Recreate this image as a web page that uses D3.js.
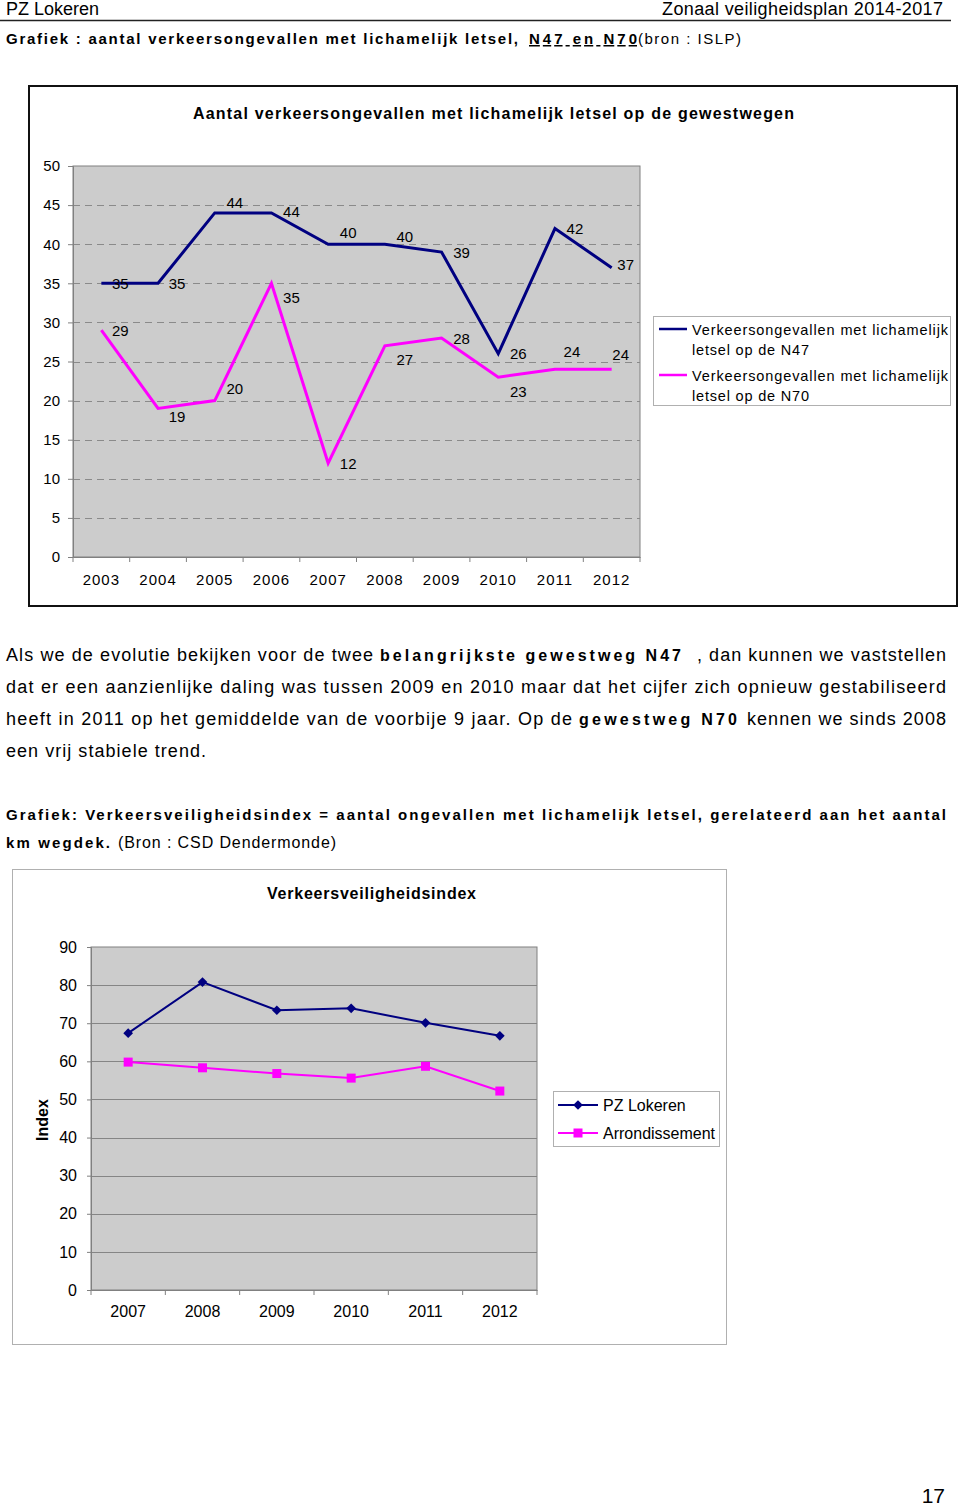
<!DOCTYPE html>
<html><head><meta charset="utf-8">
<script src="https://cdn.jsdelivr.net/npm/d3@7"></script>
<style>
html,body{margin:0;padding:0;background:#fff;}
svg{display:block;font-family:"Liberation Sans",Arial,sans-serif;}
</style></head>
<body>
<script>
// ---------- DATA ----------
const years1 = ['2003','2004','2005','2006','2007','2008','2009','2010','2011','2012'];
const n47 = [35,35,44,44,40,40,39,26,42,37];
const n70 = [29,19,20,35,12,27,28,23,24,24];
const yTicks1 = [0,5,10,15,20,25,30,35,40,45,50];
const seriesNames1 = ['Verkeersongevallen met lichamelijk|letsel op de N47','Verkeersongevallen met lichamelijk|letsel op de N70'];

const years2 = ['2007','2008','2009','2010','2011','2012'];
const pzLokeren = [67.4,80.8,73.4,73.9,70.1,66.7];
const arrondissement = [59.8,58.3,56.8,55.6,58.7,52.2];
const yTicks2 = [0,10,20,30,40,50,60,70,80,90];
const seriesNames2 = ['PZ Lokeren','Arrondissement'];

// ---------- DRAW ----------
const W=960,H=1508;
const svg=d3.select('body').append('svg').attr('width',W).attr('height',H);
const NAVY='#000080', MAG='#ff00ff', PLOT='#cccccc', AX='#808080';

function seg(txt,x0,x1,y,opts={}){
  const t=svg.append('text').attr('x',x0).attr('y',y)
    .attr('font-size',opts.size||17)
    .attr('font-weight',opts.bold?'bold':'normal')
    .attr('fill','#000')
    .text(txt);
  if(x1!=null){t.attr('textLength',x1-x0).attr('lengthAdjust','spacing');}
  if(opts.underline) t.attr('text-decoration','underline');
  if(opts.anchor) t.attr('text-anchor',opts.anchor);
  return t;
}

// header
seg('PZ Lokeren',6,99,15,{size:18});
seg('Zonaal veiligheidsplan 2014-2017',662,943,15,{size:18});
svg.append('line').attr('x1',0).attr('x2',951).attr('y1',20.5).attr('y2',20.5).attr('stroke','#222').attr('stroke-width',1.5);

seg('Grafiek : aantal verkeersongevallen met lichamelijk letsel,',6,518,44,{size:15,bold:true});
seg('N47 en N70 ',529,637,44,{size:15,bold:true,underline:true});
seg('(bron : ISLP)',638,741,44,{size:15});

// ---------- CHART 1 ----------
svg.append('rect').attr('x',29).attr('y',86).attr('width',928).attr('height',520)
  .attr('fill','#fff').attr('stroke','#111').attr('stroke-width',2);
seg('Aantal verkeersongevallen met lichamelijk letsel op de gewestwegen',193,794,119,{size:16,bold:true});

const x1=d3.scaleBand().domain(years1).range([73,640]);
const y1=d3.scaleLinear().domain([0,50]).range([557,166]);
const g1=svg.append('g');
g1.append('rect').attr('x',73).attr('y',y1(50)).attr('width',640-73).attr('height',y1(0)-y1(50))
  .attr('fill',PLOT).attr('stroke',AX).attr('stroke-width',1);
// dashed grid
g1.selectAll('.grid').data(yTicks1.filter(d=>d>0&&d<50)).join('line')
  .attr('x1',73).attr('x2',640).attr('y1',d=>Math.round(y1(d))+0.5).attr('y2',d=>Math.round(y1(d))+0.5)
  .attr('stroke','#8a8a8a').attr('stroke-dasharray','7,5').attr('stroke-width',1);
// y axis
const ya1=g1.append('g').attr('transform','translate(73,0)')
  .call(d3.axisLeft(y1).tickValues(yTicks1).tickSize(5).tickPadding(8));
ya1.select('.domain').attr('stroke',AX);
ya1.selectAll('.tick line').attr('stroke',AX);
ya1.selectAll('.tick text').attr('font-size',15).attr('fill','#000').attr('font-family','Liberation Sans, Arial, sans-serif');
// x axis
const xa1=g1.append('g').attr('transform','translate(0,557)')
  .call(d3.axisBottom(x1).tickSize(0).tickPadding(17));
xa1.select('.domain').attr('stroke',AX);
xa1.selectAll('.tick text').attr('font-size',15).attr('fill','#000').attr('letter-spacing',1).attr('font-family','Liberation Sans, Arial, sans-serif');
g1.selectAll('.xt').data(years1.concat(['end'])).join('line')
  .attr('x1',(d,i)=>i<years1.length?x1(d):640).attr('x2',(d,i)=>i<years1.length?x1(d):640)
  .attr('y1',557).attr('y2',562).attr('stroke',AX);

const line1=d3.line().x((d,i)=>x1(years1[i])+x1.bandwidth()/2).y(d=>y1(d));
g1.append('path').datum(n47).attr('d',line1).attr('fill','none').attr('stroke',NAVY).attr('stroke-width',3).attr('stroke-linejoin','miter');
g1.append('path').datum(n70).attr('d',line1).attr('fill','none').attr('stroke',MAG).attr('stroke-width',3).attr('stroke-linejoin','miter');

const off47=[[19,0],[19,0],[20,-10],[20,-1],[20,-12],[20,-8],[20,0],[20,0],[20,0],[14,-3]];
const off70=[[19,0],[19,8],[20,-12],[20,14],[20,0],[20,14],[20,0],[20,14],[17,-18],[9,-15]];
function labels(data,off){
  g1.append('g').selectAll('text').data(data).join('text')
    .attr('x',(d,i)=>x1(years1[i])+x1.bandwidth()/2+off[i][0])
    .attr('y',(d,i)=>y1(d)+off[i][1])
    .attr('text-anchor','middle').attr('dominant-baseline','central')
    .attr('font-size',15).text(d=>d);
}
labels(n47,off47); labels(n70,off70);

// legend 1
svg.append('rect').attr('x',653.5).attr('y',316.5).attr('width',297).attr('height',89)
  .attr('fill','#fff').attr('stroke','#b0b0b0');
[[NAVY,seriesNames1[0],330],[MAG,seriesNames1[1],376]].forEach(([c,name,yy])=>{
  svg.append('line').attr('x1',659).attr('x2',687).attr('y1',yy-1).attr('y2',yy-1).attr('stroke',c).attr('stroke-width',2.5);
  const parts=name.split('|');
  seg(parts[0],692,948,yy+5,{size:14.5});
  seg(parts[1],692,809,yy+25,{size:14.5});
});

// ---------- PARAGRAPH ----------
seg('Als we de evolutie bekijken voor de twee',6,373,661,{size:18});
seg('belangrijkste gewestweg  N47',380,681,661,{size:16,bold:true});
seg(', dan kunnen we vaststellen',697,946,661,{size:18});
seg('dat er een aanzienlijke daling was tussen 2009 en 2010 maar dat het cijfer zich opnieuw gestabiliseerd',6,946,693,{size:18});
seg('heeft in 2011 op het gemiddelde van de voorbije 9 jaar. Op de',6,572,725,{size:18});
seg('gewestweg N70',579,737,725,{size:16,bold:true});
seg('kennen we sinds 2008',747,946,725,{size:18});
seg('een vrij stabiele trend.',6,206,757,{size:18});

seg('Grafiek: Verkeersveiligheidsindex = aantal ongevallen met lichamelijk letsel, gerelateerd aan het aantal',6,946,820,{size:15,bold:true});
seg('km wegdek.',6,110,848,{size:15,bold:true});
seg('(Bron : CSD Dendermonde)',118,336,848,{size:16});

// ---------- CHART 2 ----------
svg.append('rect').attr('x',12.5).attr('y',869.5).attr('width',714).attr('height',475)
  .attr('fill','#fff').attr('stroke','#b0b0b0');
seg('Verkeersveiligheidsindex',267,476,899,{size:16,bold:true});

const x2=d3.scaleBand().domain(years2).range([91,537]);
const y2=d3.scaleLinear().domain([0,90]).range([1290,947]);
const g2=svg.append('g');
g2.append('rect').attr('x',91).attr('y',y2(90)).attr('width',537-91).attr('height',y2(0)-y2(90))
  .attr('fill',PLOT).attr('stroke',AX);
g2.selectAll('.grid').data(yTicks2.filter(d=>d>0&&d<90)).join('line')
  .attr('x1',91).attr('x2',537).attr('y1',d=>Math.round(y2(d))+0.5).attr('y2',d=>Math.round(y2(d))+0.5)
  .attr('stroke','#858585');
const ya2=g2.append('g').attr('transform','translate(91,0)')
  .call(d3.axisLeft(y2).tickValues(yTicks2).tickSize(4).tickPadding(10));
ya2.select('.domain').attr('stroke',AX);
ya2.selectAll('.tick line').attr('stroke',AX);
ya2.selectAll('.tick text').attr('font-size',16).attr('fill','#000').attr('font-family','Liberation Sans, Arial, sans-serif');
const xa2=g2.append('g').attr('transform','translate(0,1290)')
  .call(d3.axisBottom(x2).tickSize(0).tickPadding(16));
xa2.select('.domain').attr('stroke',AX);
xa2.selectAll('.tick text').attr('font-size',16).attr('fill','#000').attr('font-family','Liberation Sans, Arial, sans-serif');
g2.selectAll('.xt').data(years2.concat(['end'])).join('line')
  .attr('x1',(d,i)=>i<years2.length?x2(d):537).attr('x2',(d,i)=>i<years2.length?x2(d):537)
  .attr('y1',1290).attr('y2',1295).attr('stroke',AX);

svg.append('text').attr('transform','translate(48,1120) rotate(-90)')
  .attr('text-anchor','middle').attr('font-size',16).attr('font-weight','bold').text('Index');

const line2=d3.line().x((d,i)=>x2(years2[i])+x2.bandwidth()/2).y(d=>y2(d));
g2.append('path').datum(pzLokeren).attr('d',line2).attr('fill','none').attr('stroke',NAVY).attr('stroke-width',2);
g2.append('path').datum(arrondissement).attr('d',line2).attr('fill','none').attr('stroke',MAG).attr('stroke-width',2);
const diamond=d3.symbol().type(d3.symbolDiamond2).size(60);
g2.selectAll('.pd').data(pzLokeren).join('path')
  .attr('transform',(d,i)=>`translate(${x2(years2[i])+x2.bandwidth()/2},${y2(d)})`)
  .attr('d',diamond).attr('fill',NAVY);
g2.selectAll('.ps').data(arrondissement).join('rect')
  .attr('x',(d,i)=>x2(years2[i])+x2.bandwidth()/2-4.5).attr('y',d=>y2(d)-4.5)
  .attr('width',9).attr('height',9).attr('fill',MAG);

// legend 2
svg.append('rect').attr('x',553.5).attr('y',1091.5).attr('width',166).attr('height',55)
  .attr('fill','#fff').attr('stroke','#b0b0b0');
[[NAVY,'d',seriesNames2[0],1105],[MAG,'s',seriesNames2[1],1133]].forEach(([c,m,name,yy])=>{
  svg.append('line').attr('x1',558).attr('x2',598).attr('y1',yy).attr('y2',yy).attr('stroke',c).attr('stroke-width',2);
  if(m==='d') svg.append('path').attr('transform',`translate(578,${yy})`).attr('d',diamond).attr('fill',c);
  else svg.append('rect').attr('x',573.5).attr('y',yy-4.5).attr('width',9).attr('height',9).attr('fill',c);
  svg.append('text').attr('x',603).attr('y',yy+6).attr('font-size',16).text(name);
});

// page number
svg.append('text').attr('x',945).attr('y',1503).attr('text-anchor','end').attr('font-size',21).text('17');
</script>
</body></html>
